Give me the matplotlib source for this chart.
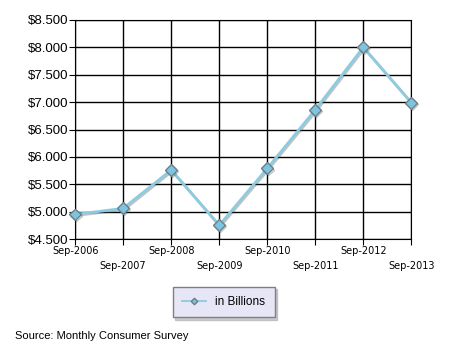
import matplotlib.pyplot as plt
import matplotlib.patheffects as pe
import numpy as np

# ---data
periods = ["Sep-2006", "Sep-2007", "Sep-2008", "Sep-2009",
           "Sep-2010", "Sep-2011", "Sep-2012", "Sep-2013"]
billions = [4.95, 5.06, 5.76, 4.75, 5.79, 6.86, 8.00, 6.99]
y_ticks = [4.5, 5.0, 5.5, 6.0, 6.5, 7.0, 7.5, 8.0, 8.5]
y_labels = ["$4.500", "$5.000", "$5.500", "$6.000", "$6.500",
            "$7.000", "$7.500", "$8.000", "$8.500"]

plt.rcParams["font.family"] = ["Liberation Sans", "DejaVu Sans"]

fig = plt.figure(figsize=(4.5, 3.5), dpi=100)
ax = fig.add_axes([0.167, 0.317, 0.747, 0.626])

x = np.arange(len(periods))
ax.plot(x, billions, color="#8ccbe0", lw=2, marker="D", markersize=6,
        markerfacecolor="#7cc4e0", markeredgecolor="#6a7f88", markeredgewidth=1,
        label="in Billions", zorder=3, clip_on=False,
        path_effects=[pe.SimpleLineShadow(offset=(0.8, -0.8), shadow_color="#555555", alpha=0.35),
                      pe.Normal()])

ax.set_xlim(0, len(periods) - 1)
ax.set_ylim(4.5, 8.5)
ax.set_yticks(y_ticks)
ax.set_yticklabels(y_labels, fontsize=9.5)

# staggered category labels
xlabels = [p if i % 2 == 0 else "\n" + p for i, p in enumerate(periods)]
ax.set_xticks(x)
ax.set_xticklabels(xlabels, fontsize=7, family="DejaVu Sans", linespacing=1.6)
ax.tick_params(axis="both", length=4, color="black", pad=1)

ax.grid(True, color="black", lw=1)
ax.set_axisbelow(True)
for s in ax.spines.values():
    s.set_color("black")

leg = fig.legend(loc="center", bbox_to_anchor=(0.497, 0.137), fontsize=8.5,
                 shadow={"color": "#aaaaaa", "alpha": 0.6, "ox": 2, "oy": -2},
                 fancybox=False, facecolor="#e6e6f7", edgecolor="#7f7f7f",
                 framealpha=1, handlelength=2.0, borderpad=0.8, markerscale=0.55)
leg.get_frame().set_linewidth(1)
for h in leg.legend_handles:
    h.set_linewidth(1.3)
    h.set_path_effects([])

fig.text(0.033, 0.031, "Source: Monthly Consumer Survey", fontsize=8)

fig.savefig("out.png", dpi=100)
